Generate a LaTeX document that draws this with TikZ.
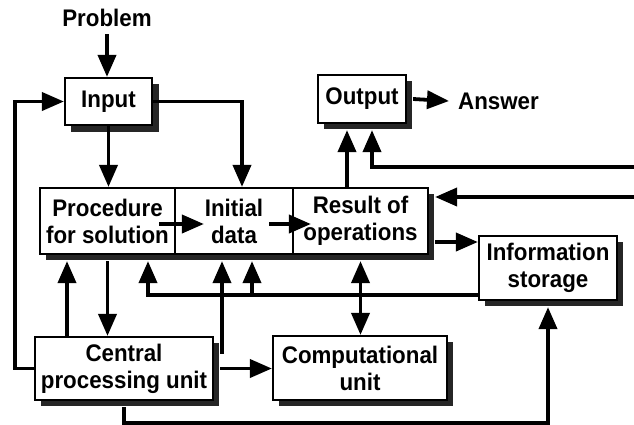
\documentclass[tikz,border=0pt]{standalone}
\usepackage{fontspec}
\setmainfont{Liberation Sans}[FakeStretch=0.93]
\usetikzlibrary{arrows.meta,calc}
\begin{document}
\begin{tikzpicture}[x=1pt,y=-1pt,
  txt/.style={font=\fontsize{24}{27}\selectfont\bfseries, inner sep=0pt, align=center},
  box/.style={txt, draw=black, line width=2.2pt, fill=white},
  conn/.style={line width=3.8pt, -{Triangle[length=22pt,width=18pt]}},
  dconn/.style={line width=3.8pt, {Triangle[length=22pt,width=18pt]}-{Triangle[length=22pt,width=18pt]}},
  shade/.style={fill=black!85}
]
\useasboundingbox (0,0) rectangle (634,424);

% drop shadows (drawn first, behind the boxes)
\fill[shade] (71,84) rectangle (158.5,131.5);
\fill[shade] (324,81) rectangle (412,129);
\fill[shade] (46,194) rectangle (434,260);
\fill[shade] (485,242) rectangle (623,306);
\fill[shade] (41,343) rectangle (219,406);
\fill[shade] (279,342) rectangle (453,406);

% nodes
\node[txt] (problem) at (107,18) {Problem};
\node[box, minimum width=87pt, minimum height=47pt] (input) at (108.5,101.5) {Input};
\node[box, minimum width=88pt, minimum height=48pt] (output) at (362,99) {Output};
\node[txt, anchor=west] (answer) at (458,101) {Answer};
\node[box, minimum width=135pt, minimum height=66pt] (proc) at (107.5,221) {Procedure\\for solution};
\node[box, minimum width=118pt, minimum height=66pt] (init) at (234,221) {Initial\\data};
\node[box, minimum width=135pt, minimum height=66pt] (result) at (360.5,221) {Result of\\operations};
\node[box, minimum width=138pt, minimum height=64pt] (info) at (548,268) {Information\\storage};
\node[box, minimum width=178pt, minimum height=63pt] (cpu) at (124,368.5) {Central\\processing unit};
\node[box, minimum width=174pt, minimum height=64pt] (comp) at (360,368) {Computational\\unit};

% free ends at the right edge
\coordinate (r1) at (634,167);
\coordinate (r2) at (634,197);

% connectors
\draw[conn] ([yshift=-7pt]problem.south) -- (problem.south |- input.north);
\draw[conn] (input.south) -- (input.south |- proc.north);
\draw[conn] (input.east) -| ([xshift=8pt]init.north);
\draw[conn] (cpu.west) -| (15,101.5) -- (input.west);
\draw[conn] ([xshift=6pt]output.east) -- ([xshift=-9pt]answer.west);

\draw[conn] ($(proc.east)+(-17,3)$) -- ($(init.west)+(30,3)$);
\draw[conn] ($(init.east)+(-25,3)$) -- ($(result.west)+(19,3)$);

\coordinate (oa) at ($(output.south)+(-15,0)$);
\coordinate (ob) at ($(output.south)+(10,0)$);
\draw[conn] (oa |- result.north) -- ([yshift=-6pt]oa);
\draw[conn] (r1) -| ([yshift=-6pt]ob);
\draw[conn] (r2) -- ([xshift=6pt]r2 -| result.east);
\draw[conn] ([shift={(6pt,-21pt)}]result.east) -- ([yshift=-21pt]result.east -| info.west);
\draw[dconn] ([yshift=-6pt]result.south) -- (result.south |- comp.north);

\coordinate (h1) at ([yshift=-27pt]info.west);
\coordinate (pb) at ($(proc.south)+(40.5,0)$);
\coordinate (ib) at ($(init.south)+(18,0)$);
\draw[conn] (h1) -| ([yshift=-6pt]pb);
\draw[conn] (ib |- h1) -- ([yshift=-6pt]ib);

\coordinate (pa) at ($(proc.south)+(-40.5,0)$);
\draw[conn] (pa |- cpu.north) -- ([yshift=-6pt]pa);
\draw[conn] ([yshift=-6pt]proc.south) -- (proc.south |- cpu.north);

\coordinate (ia) at ($(init.south)+(-12,0)$);
\draw[conn] ([shift={(6pt,16.5pt)}]cpu.east) -| ([yshift=-6pt]ia);
\draw[conn] ([xshift=6pt]cpu.east) -- (cpu.east -| comp.west);

\coordinate (cb) at ($(cpu.south)+(0,22)$);
\draw[conn] ([yshift=-6pt]cpu.south) -- (cb) -| ([yshift=-6pt]info.south);
\end{tikzpicture}
\end{document}
